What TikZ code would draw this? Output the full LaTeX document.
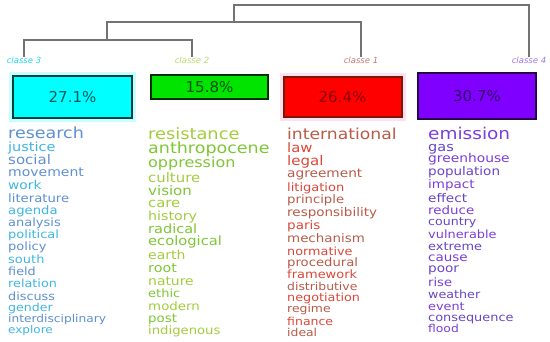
\documentclass[tikz,border=0pt]{standalone}
\usepackage{fontspec}
\setmainfont{DejaVu Sans}
\usetikzlibrary{positioning}

\definecolor{cyanA}{HTML}{5E8FD2}
\definecolor{cyanB}{HTML}{3DB6E2}
\definecolor{greenA}{HTML}{A2CC3C}
\definecolor{greenB}{HTML}{7DC634}
\definecolor{redA}{HTML}{B85A48}
\definecolor{redB}{HTML}{DC4636}
\definecolor{violetA}{HTML}{7A3DDC}
\definecolor{violetB}{HTML}{6744C6}
\definecolor{boxcyan}{HTML}{00FFFF}
\definecolor{boxgreen}{HTML}{00E400}
\definecolor{boxred}{HTML}{FF0000}
\definecolor{boxviolet}{HTML}{7F00FF}

\begin{document}
\begin{tikzpicture}[x=1pt, y=-1pt,
    tree/.style={draw=black!55, line width=1.1pt},
    classe/.style={font=\fontsize{8.5}{8.5}\selectfont\itshape, inner sep=0.5pt},
    share/.style={draw, rectangle, line width=1.2pt, inner sep=0pt, font=\fontsize{15}{15}\selectfont},
    word/.style={anchor=base west, inner sep=0pt}
]
    \useasboundingbox (0,0) rectangle (550,341);

    % class labels
    \node[classe, text=boxcyan!45!cyanB] (k3) at (24,60.5) {classe 3};
    \node[classe, text=greenA!75] (k2) at (192,60.5) {classe 2};
    \node[classe, text=redA!80] (k1) at (361,60.5) {classe 1};
    \node[classe, text=violetA!70] (k4) at (529,60.5) {classe 4};

    % dendrogram
    \coordinate (t32) at (107,40);
    \coordinate (t321) at (234,22);
    \coordinate (tall) at (529,5);
    \draw[tree] (k3.north) |- (t32) -| (k2.north);
    \draw[tree] (t32) |- (t321) -| (k1.north);
    \draw[tree] (t321) |- (tall) -- (k4.north);

    % shares
    \node[share, fill=boxcyan, draw=black!75!boxcyan, text=black!65!boxcyan,
          minimum width=119pt, minimum height=42pt,
          preaction={draw=boxcyan!22, line width=8pt}] (p3) at (72.5,97) {27.1\%};
    \node[share, fill=boxgreen, draw=black!80!boxgreen, text=black!65!boxgreen,
          minimum width=117pt, minimum height=24pt] (p2) at (209.5,87) {15.8\%};
    \node[share, fill=boxred, draw=black!65!boxred!80!orange, line width=2pt, text=black!45!boxred,
          minimum width=118pt, minimum height=40pt,
          preaction={draw=magenta!12, line width=8pt}] (p1) at (342.5,97) {26.4\%};
    \node[share, fill=boxviolet, draw=black!70!boxviolet, text=black!60!boxviolet,
          minimum width=118pt, minimum height=46pt] (p4) at (477,96) {30.7\%};

    % classe 3
    \foreach \w/\y/\s/\c [count=\i] in {research/134.5/17.5/cyanA, justice/148/14.5/cyanB,
        social/161/15/cyanA, movement/173/14/cyanA, work/186/13.8/cyanB,
        literature/199/13.2/cyanA, agenda/211/13.2/cyanB, analysis/223/13/cyanA,
        political/235/13/cyanB, policy/247/13/cyanA, south/260/13/cyanB,
        field/272/12.8/cyanA, relation/284/12.8/cyanB, discuss/297/12.8/cyanA,
        gender/308/12.6/cyanB, interdisciplinary/319/12.2/cyanA, explore/330/12/cyanB}
        \node[word, text=\c, font=\fontsize{\s}{\s}\selectfont] (a\i) at (8,{\y+0.25*\s}) {\scalebox{1}[0.88]{\w}};

    % classe 2
    \foreach \w/\y/\s/\c [count=\i] in {resistance/135/17.8/greenA, anthropocene/149/17.5/greenB,
        oppression/163/16/greenB, culture/179/14.9/greenA, vision/192/15/greenB,
        care/204/14.8/greenA, history/217/14.2/greenA, radical/230/14.5/greenB,
        ecological/242/14.7/greenB, earth/256/14/greenA, root/269/14.3/greenB,
        nature/282/13.9/greenA, ethic/294/13/greenB, modern/307/13.4/greenA,
        post/319/13.4/greenB, indigenous/331/13.2/greenA}
        \node[word, text=\c, font=\fontsize{\s}{\s}\selectfont] (b\i) at (148,{\y+0.25*\s}) {\scalebox{1}[0.88]{\w}};

    % classe 1
    \foreach \w/\y/\s/\c [count=\i] in {international/135/17.2/redA, law/149/14.8/redB,
        legal/162/15/redB, agreement/174/13.7/redA, litigation/188/13/redB,
        principle/200/13.2/redA, responsibility/213/13.5/redA, paris/226/13.5/redB,
        mechanism/239/13.4/redA, normative/252/12.8/redB, procedural/263/13.2/redA,
        framework/275/13/redB, distributive/287/12.4/redA, negotiation/298/12.8/redB,
        regime/309/12.4/redA, finance/322/12.5/redB, ideal/333/12.4/redA}
        \node[word, text=\c, font=\fontsize{\s}{\s}\selectfont] (c\i) at (287,{\y+0.25*\s}) {\scalebox{1}[0.88]{\w}};

    % classe 4
    \foreach \w/\y/\s/\c [count=\i] in {emission/134.5/18.5/violetA, gas/147.5/14.5/violetB,
        greenhouse/159.5/13.8/violetA, population/172/13.5/violetB, impact/185/13.5/violetA,
        effect/199/13.6/violetB, reduce/211/13.4/violetA, country/222/12.6/violetB,
        vulnerable/235/12.9/violetA, extreme/247/12.9/violetB, cause/258/13.5/violetA,
        poor/269/13.6/violetB, rise/283/13.1/violetA, weather/295.5/12.7/violetB,
        event/307/12.8/violetA, consequence/318/12.9/violetB, flood/329.5/12.3/violetA}
        \node[word, text=\c, font=\fontsize{\s}{\s}\selectfont] (d\i) at (428,{\y+0.25*\s}) {\scalebox{1}[0.88]{\w}};

\end{tikzpicture}
\end{document}
